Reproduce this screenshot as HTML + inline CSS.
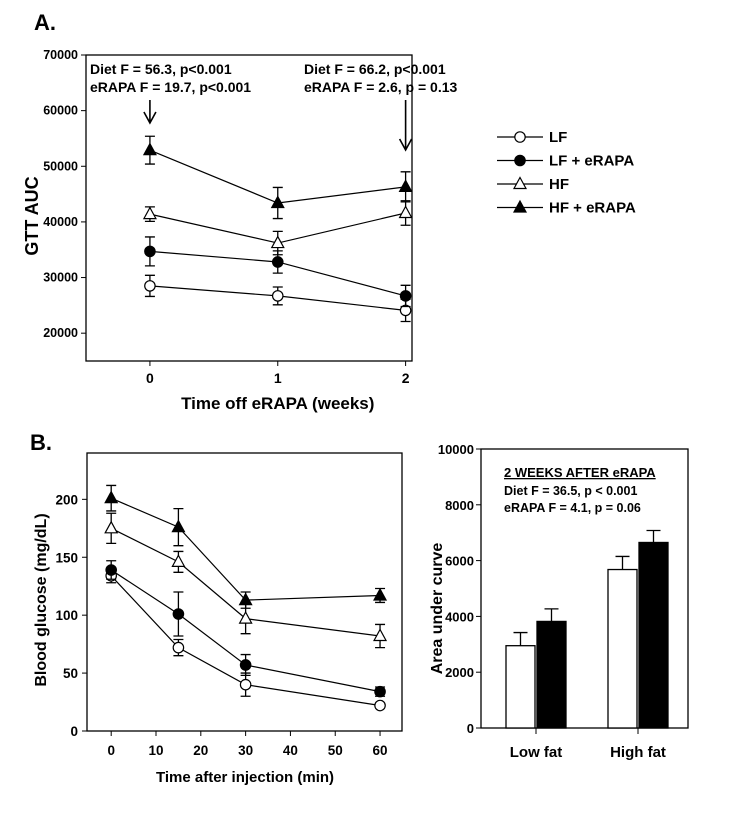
<!DOCTYPE html>
<html><head><meta charset="utf-8"><style>
body{margin:0;background:#fff;}
svg{display:block;font-family:"Liberation Sans",Arial,sans-serif;}
text{font-weight:bold;fill:#000;}
</style></head><body>
<svg id="s" width="750" height="833" viewBox="0 0 750 833" xmlns="http://www.w3.org/2000/svg">
<text x="34" y="30" font-size="22">A.</text>
<text x="30" y="450" font-size="22">B.</text>
</svg>
<script>
// ---- Panel A data ----
const aWeeks=[0,1,2];
const aTicksY=[20000,30000,40000,50000,60000,70000];
const aLF=[28500,26700,24100], aLFerr=[1900,1600,2000];
const aLFe=[34700,32800,26700], aLFeErr=[2600,2000,1900];
const aHF=[41400,36200,41600], aHFerr=[1300,2100,2200];
const aHFe=[52900,43400,46300], aHFeErr=[2500,2800,2700];
// ---- Panel B left data ----
const bTimes=[0,15,30,60];
const bTicksX=[0,10,20,30,40,50,60];
const bTicksY=[0,50,100,150,200];
const bLF=[134,72,40,22], bLFerr=[6,7,10,2];
const bLFe=[139,101,57,34], bLFeErr=[8,19,9,4];
const bHF=[175,146,97,82], bHFerr=[13,9,13,10];
const bHFe=[201,176,113,117], bHFeErr=[11,16,7,6];
// ---- Panel B right data ----
const barGroups=["Low fat","High fat"];
const barCtrl=[2950,5680], barCtrlErr=[470,470];
const barRapa=[3820,6650], barRapaErr=[450,430];
const barTicksY=[0,2000,4000,6000,8000,10000];

const NS="http://www.w3.org/2000/svg";
const svg=document.getElementById('s');
function el(t,a,p){const e=document.createElementNS(NS,t);for(const k in a)e.setAttribute(k,a[k]);(p||svg).appendChild(e);return e;}
function txt(x,y,s,size,anchor,extra){const e=el('text',Object.assign({x:x,y:y,'font-size':size,'text-anchor':anchor||'start'},extra||{}));e.textContent=s;return e;}

// ===== Panel A =====
const A={l:86,r:412,t:55,b:361,x0:-0.5,x1:2.05,y0:15000,y1:70000};
const ax=v=>A.l+(v-A.x0)/(A.x1-A.x0)*(A.r-A.l);
const ay=v=>A.b-(v-A.y0)/(A.y1-A.y0)*(A.b-A.t);
let r=el('rect',{x:A.l,y:A.t,width:A.r-A.l,height:A.b-A.t,fill:'none',stroke:'#000','stroke-width':1.3});


aTicksY.forEach(v=>{
  const t=el('line',{x1:A.l-5,x2:A.l,y1:ay(v),y2:ay(v),stroke:'#000'});
  
  
  const l=txt(A.l-8,ay(v)+4,String(v),12.5,'end');
  
  
});
aWeeks.forEach(v=>{
  const t=el('line',{x1:ax(v),x2:ax(v),y1:A.b,y2:A.b+5,stroke:'#000'});
  
  
  const l=txt(ax(v),A.b+22,String(v),14,'middle');
  
  
});
let at=txt(ax(1),A.b+48,'Time off eRAPA (weeks)',17,'middle');


let ayt=txt(0,0,'GTT AUC',18,'middle',{transform:'translate(38,'+((A.t+A.b)/2+8)+') rotate(-90)'});



function marker(x,y,type,name){
  let m;
  const fill=(type==='fc'||type==='ft')?'#000':'#fff';
  if(type[1]==='c') m=el('circle',{cx:x,cy:y,r:5.2,fill:fill,stroke:'#000','stroke-width':1.2});
  else m=el('polygon',{points:`${x},${y-6.5} ${x+6},${y+4.5} ${x-6},${y+4.5}`,fill:fill,stroke:'#000','stroke-width':1.2});
  
  
}
function series(xs,ys,es,fx,fy,type,name){
  const pts=xs.map((x,i)=>fx(x)+','+fy(ys[i])).join(' ');
  const pl=el('polyline',{points:pts,fill:'none',stroke:'#000','stroke-width':1.2});
  
  
  xs.forEach((x,i)=>{
    const X=fx(x),y1=fy(ys[i]+es[i]),y2=fy(ys[i]-es[i]);
    const e=el('path',{d:`M${X},${y1}V${y2}M${X-5},${y1}H${X+5}M${X-5},${y2}H${X+5}`,stroke:'#000','stroke-width':1.3,fill:'none'});
    
    
  });
  xs.forEach((x,i)=>marker(fx(x),fy(ys[i]),type,name+'-point'));
}
series(aWeeks,aLF,aLFerr,ax,ay,'oc','a-lf');
series(aWeeks,aLFe,aLFeErr,ax,ay,'fc','a-lf-erapa');
series(aWeeks,aHF,aHFerr,ax,ay,'ot','a-hf');
series(aWeeks,aHFe,aHFeErr,ax,ay,'ft','a-hf-erapa');

[['Diet F = 56.3, p<0.001','eRAPA F = 19.7, p<0.001',90,'annotation-week-0'],['Diet F = 66.2, p<0.001','eRAPA F = 2.6, p = 0.13',304,'annotation-week-2']].forEach(a=>{
  const t1=txt(a[2],74,a[0],14);
  
  
  const t2=txt(a[2],92,a[1],14);
  
  
});
[[0,123],[2,150]].forEach(p=>{
  const X=ax(p[0]);
  const ar=el('path',{d:`M${X},100V${p[1]}M${X-6},${p[1]-11}L${X},${p[1]}L${X+6},${p[1]-11}`,stroke:'#000','stroke-width':1.6,fill:'none'});
  
  
});
// legend
const legItems=[['LF','oc'],['LF + eRAPA','fc'],['HF','ot'],['HF + eRAPA','ft']];
legItems.forEach((it,i)=>{
  const y=137+i*23.5;
  const g=el('g',{});
  
  
  const ln=el('line',{x1:497,x2:543,y1:y,y2:y,stroke:'#000','stroke-width':1.2},g);
  
  
  marker(520,y,it[1],'legend-marker');
  const t=txt(549,y+5,it[0],15);
  
  
});

// ===== Panel B left =====
const B={l:87,r:402,t:453,b:731,x0:-5.4,x1:64.9,y0:0,y1:240};
const bx=v=>B.l+(v-B.x0)/(B.x1-B.x0)*(B.r-B.l);
const by=v=>B.b-(v-B.y0)/(B.y1-B.y0)*(B.b-B.t);
r=el('rect',{x:B.l,y:B.t,width:B.r-B.l,height:B.b-B.t,fill:'none',stroke:'#000','stroke-width':1.3});


bTicksY.forEach(v=>{
  const t=el('line',{x1:B.l-5,x2:B.l,y1:by(v),y2:by(v),stroke:'#000'});
  
  
  const l=txt(B.l-9,by(v)+5,String(v),13.5,'end');
  
  
});
bTicksX.forEach(v=>{
  const t=el('line',{x1:bx(v),x2:bx(v),y1:B.b,y2:B.b+5,stroke:'#000'});
  
  
  const l=txt(bx(v),B.b+24,String(v),13.5,'middle');
  
  
});
let bt=txt(245,782,'Time after injection (min)',15,'middle');


let byt=txt(0,0,'Blood glucose (mg/dL)',16,'middle',{transform:'translate(46,'+((B.t+B.b)/2+8)+') rotate(-90)'});


series(bTimes,bLF,bLFerr,bx,by,'oc','b-lf');
series(bTimes,bLFe,bLFeErr,bx,by,'fc','b-lf-erapa');
series(bTimes,bHF,bHFerr,bx,by,'ot','b-hf');
series(bTimes,bHFe,bHFeErr,bx,by,'ft','b-hf-erapa');

// ===== Panel B right (bars) =====
const C={l:481,r:688,t:449,b:728,y0:0,y1:10000};
const cy=v=>C.b-(v-C.y0)/(C.y1-C.y0)*(C.b-C.t);
const groupCenter=i=>536+i*102;
const barW=29;
r=el('rect',{x:C.l,y:C.t,width:C.r-C.l,height:C.b-C.t,fill:'none',stroke:'#000','stroke-width':1.3});


barTicksY.forEach(v=>{
  const t=el('line',{x1:C.l-5,x2:C.l,y1:cy(v),y2:cy(v),stroke:'#000'});
  
  
  const l=txt(C.l-7,cy(v)+5,String(v),13,'end');
  
  
});
barGroups.forEach((g,i)=>{
  const c=groupCenter(i);
  const t=el('line',{x1:c,x2:c,y1:C.b,y2:C.b+6,stroke:'#000'});
  
  
  const l=txt(c,C.b+29,g,15,'middle');
  
  
  [[barCtrl,barCtrlErr,c-1-barW,'#fff','bar-control'],[barRapa,barRapaErr,c+1,'#000','bar-erapa']].forEach(s=>{
    const v=s[0][i],e=s[1][i];
    const eb=el('path',{d:`M${s[2]+barW/2},${cy(v)}V${cy(v+e)}M${s[2]+barW/2-7},${cy(v+e)}H${s[2]+barW/2+7}`,stroke:'#000','stroke-width':1.3,fill:'none'});
    
    
    const b=el('rect',{x:s[2],y:cy(v),width:barW,height:C.b-cy(v),fill:s[3],stroke:'#000','stroke-width':1.3});
    
    
  });
});
let cyt=txt(0,0,'Area under curve',16,'middle',{transform:'translate(442,'+((C.t+C.b)/2+20)+') rotate(-90)'});


let ct=txt(504,477,'2 WEEKS AFTER eRAPA',13,'start',{'text-decoration':'underline',style:'font-family:"Liberation Sans Narrow","Liberation Sans",sans-serif'});


let c1=txt(504,495,'Diet F = 36.5, p < 0.001',12.5,'start',{style:'font-family:"Liberation Sans Narrow","Liberation Sans",sans-serif'});


let c2=txt(504,512,'eRAPA F = 4.1, p = 0.06',12.5,'start',{style:'font-family:"Liberation Sans Narrow","Liberation Sans",sans-serif'});


</script>
</body></html>
